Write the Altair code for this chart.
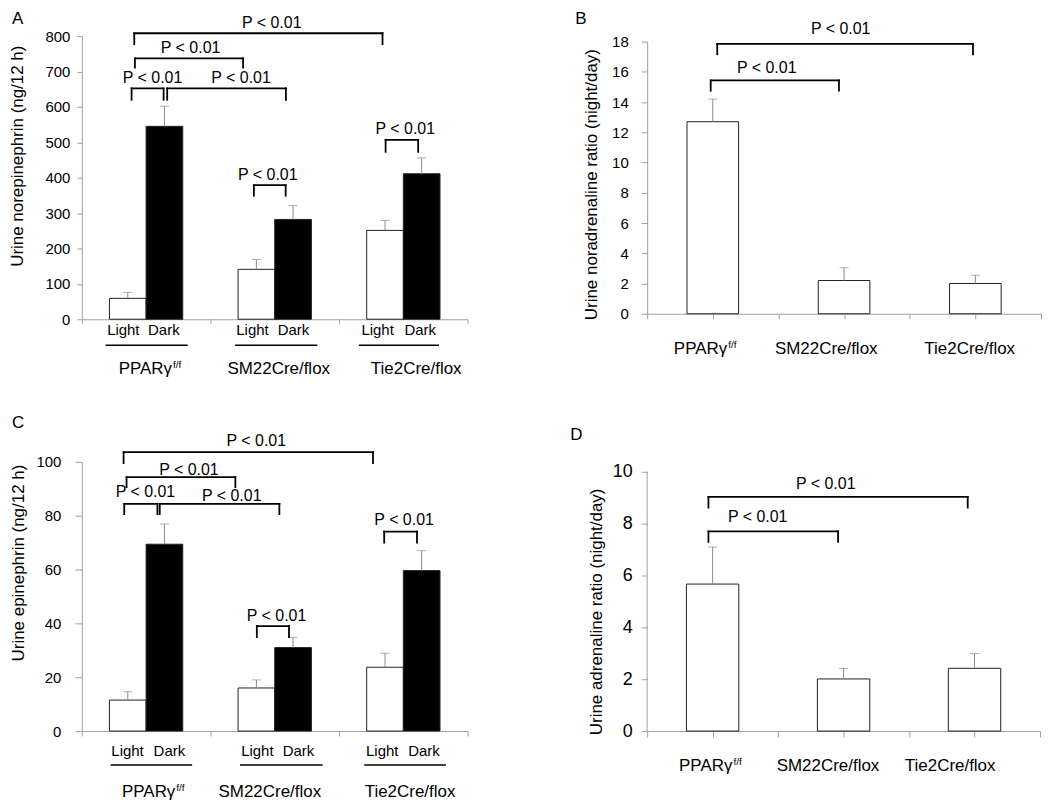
import altair as alt
import pandas as pd

FONT = "Liberation Sans"
AXIS_GRAY = "#a0a0a0"
ERR_GRAY = "#8c8c8c"

groups = ["PPARγ", "SM22Cre/flox", "Tie2Cre/flox"]
conds = ["Light", "Dark"]

# ---------- Panel A : urine norepinephrin (ng/12 h) ----------
a_light = [59, 141, 251]
a_light_err = [76, 169, 279]
a_dark = [545, 282, 411]
a_dark_err = [602, 321, 456]
a_br_x1 = [0.387, 0.664, 0.413, 0.408, 1.338, 2.362]
a_br_x2 = [0.636, 1.587, 1.254, 2.338, 1.585, 2.615]
a_br_top = [652, 652, 737, 808, 379, 507]
a_br_leg = [620, 620, 711, 777, 349, 473]
a_p_x = [0.55, 1.238, 0.846, 1.477, 1.446, 2.515]
a_p_y = [668, 668, 752, 822, 392, 524]
a_light_lab_x = [0.323, 1.327, 2.30]
a_dark_lab_x = [0.638, 1.646, 2.631]
a_under_x1 = [0.185, 1.192, 2.154]
a_under_x2 = [0.823, 1.831, 2.777]
a_group_x = [0.523, 1.531, 2.60]

# ---------- Panel B : urine noradrenaline ratio (night/day) ----------
b_val = [12.7, 2.2, 2.0]
b_err = [14.2, 3.05, 2.55]
b_br_x1 = [0.484, 0.534]
b_br_x2 = [1.461, 2.482]
b_br_top = [15.43, 17.84]
b_br_leg = [14.75, 17.16]
b_p_x = [0.911, 1.474]
b_p_y = [15.9, 18.5]
b_group_x = [0.435, 1.364, 2.457]

# ---------- Panel C : urine epinephrin (ng/12 h) ----------
c_light = [11.5, 16.0, 23.7]
c_light_err = [14.6, 19.0, 28.9]
c_dark = [69.4, 31.0, 59.6]
c_dark_err = [76.9, 34.8, 67.0]
c_br_x1 = [0.330, 0.606, 0.348, 0.325, 1.361, 2.351]
c_br_x2 = [0.588, 1.536, 1.194, 2.264, 1.611, 2.606]
c_br_top = [84.4, 84.4, 94.3, 103.6, 39.0, 74.1]
c_br_leg = [80.6, 80.6, 90.6, 99.5, 34.9, 70.0]
c_p_x = [0.495, 1.166, 0.833, 1.357, 1.514, 2.506]
c_p_y = [86.9, 85.3, 95.2, 105.7, 40.9, 76.7]
c_light_lab_x = [0.356, 1.365, 2.336]
c_dark_lab_x = [0.681, 1.684, 2.66]
c_under_x1 = [0.224, 1.230, 2.196]
c_under_x2 = [0.858, 1.872, 2.831]
c_group_x = [0.549, 1.462, 2.552]

# ---------- Panel D : urine adrenaline ratio (night/day) ----------
d_val = [5.67, 2.01, 2.42]
d_err = [7.1, 2.41, 2.99]
d_br_x1 = [0.468, 0.468]
d_br_x2 = [1.458, 2.448]
d_br_top = [7.70, 9.03]
d_br_leg = [7.30, 8.62]
d_p_x = [0.844, 1.364]
d_p_y = [8.07, 9.35]
d_group_x = [0.476, 1.381, 2.314]

P_LABEL = "P < 0.01"


def bracket_segments(x1, x2, top, leg):
    rows = []
    for a, b, t, l in zip(x1, x2, top, leg):
        rows.append({"x": a, "x2": b, "y": t, "y2": t})
        rows.append({"x": a, "x2": a, "y": l, "y2": t})
        rows.append({"x": b, "x2": b, "y": l, "y2": t})
    return pd.DataFrame(rows)


class Enc:
    """Shared scales and axes so every layer of a panel resolves to the same axes."""

    def __init__(self, ymax, ystep, ytitle, yax, xvals, xtick, ydom=None):
        self.ymax = ymax
        self.own_line = ydom is not None
        self.xs = alt.Scale(domain=[0, 3], nice=False, zero=False)
        self.ys = alt.Scale(domain=[0, ydom if ydom else ymax], nice=False)
        self.xa = alt.Axis(values=xvals, labels=False, title=None, grid=False,
                           domainColor=AXIS_GRAY, tickColor=AXIS_GRAY, tickSize=xtick)
        self.ya = alt.Axis(
            values=list(range(0, ymax + 1, ystep)), title=ytitle, grid=False,
            domain=not self.own_line,
            domainColor=AXIS_GRAY, tickColor=AXIS_GRAY, labelColor="black",
            labelFont=FONT, labelFontSize=yax["lfs"], tickSize=yax["tick"],
            labelPadding=yax["lpad"], labelOverlap=False, titleFont=FONT, titleFontSize=17,
            titleFontWeight="normal", titleColor="black",
            titlePadding=yax["tpad"], titleY=yax["ty"])
        self.ytitle = ytitle

    def X(self, f):
        return alt.X(f, scale=self.xs, axis=self.xa, title=None)

    def Y(self, f):
        return alt.Y(f, scale=self.ys, axis=self.ya, title=self.ytitle)

    def axis_line(self):
        # y-axis line from 0 to the top tick when the scale reaches a little higher
        return alt.Chart(pd.DataFrame({"x": [0], "y": [0], "y2": [self.ymax]})).mark_rule(
            color=AXIS_GRAY, strokeWidth=1
        ).encode(x=self.X("x:Q"), y=self.Y("y:Q"), y2="y2:Q")


def common_layers(e, br, p_x, p_y, group_x, h, group_dy, letter, letter_xy):
    segs = alt.Chart(bracket_segments(*br)).mark_rule(
        color="black", strokeWidth=1.8, strokeCap="square"
    ).encode(x=e.X("x:Q"), x2="x2:Q", y=e.Y("y:Q"), y2="y2:Q")
    ptxt = alt.Chart(pd.DataFrame({"x": p_x, "y": p_y, "t": [P_LABEL] * len(p_x)})).mark_text(
        font=FONT, fontSize=16, align="center", baseline="alphabetic", color="black"
    ).encode(x=e.X("x:Q"), y=e.Y("y:Q"), text="t:N")
    gdf = pd.DataFrame({"x": group_x, "t": groups})
    g_other = alt.Chart(gdf.iloc[1:]).mark_text(
        font=FONT, fontSize=17, align="center", baseline="alphabetic", color="black"
    ).encode(x=e.X("x:Q"), y=alt.value(h + group_dy), text="t:N")
    g_ppar = alt.Chart(gdf.iloc[:1]).mark_text(
        font=FONT, fontSize=17, align="right", baseline="alphabetic", color="black", dx=23
    ).encode(x=e.X("x:Q"), y=alt.value(h + group_dy), text="t:N")
    g_sup = alt.Chart(pd.DataFrame({"x": group_x[:1], "t": ["f/f"]})).mark_text(
        font=FONT, fontSize=10, align="left", baseline="alphabetic", color="black", dx=24, dy=-6
    ).encode(x=e.X("x:Q"), y=alt.value(h + group_dy), text="t:N")
    let = alt.Chart(pd.DataFrame({"t": [letter]})).mark_text(
        font=FONT, fontSize=17, align="left", baseline="alphabetic", color="black"
    ).encode(x=alt.value(letter_xy[0]), y=alt.value(letter_xy[1]), text="t:N")
    out = [segs, ptxt, g_other, g_ppar, g_sup, let]
    if e.own_line:
        out.append(e.axis_line())
    return out


def pair_panel(letter, light, light_err, dark, dark_err, ymax, ystep, ytitle, w, h,
               yax, xtick, br, p_x, p_y, light_x, dark_x, under1, under2, group_x,
               offs, letter_xy, bw=0.285):
    e = Enc(ymax, ystep, ytitle, yax, [0, 1, 2, 3], xtick)
    centers = [i + 0.5 for i in range(3)]
    df = pd.DataFrame({
        "x": [c - bw for c in centers] + centers,
        "x2": centers + [c + bw for c in centers],
        "mid": [c - bw / 2 for c in centers] + [c + bw / 2 for c in centers],
        "v": light + dark,
        "err": light_err + dark_err,
        "cond": ["Light"] * 3 + ["Dark"] * 3,
    })
    bars = alt.Chart(df).mark_bar(stroke="#222222", strokeWidth=1).encode(
        x=e.X("x:Q"), x2="x2:Q", y=e.Y("v:Q"), y2=alt.datum(0),
        fill=alt.Fill("cond:N", scale=alt.Scale(domain=conds, range=["white", "black"]), legend=None),
    )
    err = alt.Chart(df).mark_rule(color=ERR_GRAY, strokeWidth=1).encode(
        x=e.X("mid:Q"), y=e.Y("v:Q"), y2="err:Q")
    cap = alt.Chart(df).mark_tick(color=ERR_GRAY, orient="horizontal", size=9, thickness=1).encode(
        x=e.X("mid:Q"), y=e.Y("err:Q"))
    ld = pd.DataFrame({"x": light_x + dark_x, "t": ["Light"] * 3 + ["Dark"] * 3})
    ldt = alt.Chart(ld).mark_text(
        font=FONT, fontSize=15, align="center", baseline="alphabetic", color="black"
    ).encode(x=e.X("x:Q"), y=alt.value(h + offs[0]), text="t:N")
    und = alt.Chart(pd.DataFrame({"x": under1, "x2": under2})).mark_rule(
        color="black", strokeWidth=1.5
    ).encode(x=e.X("x:Q"), x2="x2:Q", y=alt.value(h + offs[1]))
    layers = [bars, err, cap, ldt, und] + common_layers(
        e, br, p_x, p_y, group_x, h, offs[2], letter, letter_xy)
    return alt.layer(*layers).properties(width=w, height=h)


def single_panel(letter, vals, errs, ymax, ystep, ytitle, w, h, yax, xtick,
                 br, p_x, p_y, group_x, group_dy, letter_xy, bw=0.395, ydom=None):
    e = Enc(ymax, ystep, ytitle, yax, [0, 0.5, 1, 1.5, 2, 2.5, 3], xtick, ydom)
    centers = [i + 0.5 for i in range(3)]
    df = pd.DataFrame({
        "x": [c - bw / 2 for c in centers],
        "x2": [c + bw / 2 for c in centers],
        "mid": centers,
        "v": vals,
        "err": errs,
    })
    bars = alt.Chart(df).mark_bar(stroke="#222222", strokeWidth=1, fill="white").encode(
        x=e.X("x:Q"), x2="x2:Q", y=e.Y("v:Q"), y2=alt.datum(0))
    err = alt.Chart(df).mark_rule(color=ERR_GRAY, strokeWidth=1).encode(
        x=e.X("mid:Q"), y=e.Y("v:Q"), y2="err:Q")
    cap = alt.Chart(df).mark_tick(color=ERR_GRAY, orient="horizontal", size=9, thickness=1).encode(
        x=e.X("mid:Q"), y=e.Y("err:Q"))
    layers = [bars, err, cap] + common_layers(
        e, br, p_x, p_y, group_x, h, group_dy, letter, letter_xy)
    return alt.layer(*layers).properties(width=w, height=h)


A = pair_panel("A", a_light, a_light_err, a_dark, a_dark_err, 800, 100,
               "Urine norepinephrin (ng/12 h)", 387, 284,
               {"lfs": 15, "tick": 5, "lpad": 7, "tpad": 18, "ty": 120}, 4,
               (a_br_x1, a_br_x2, a_br_top, a_br_leg), a_p_x, a_p_y,
               a_light_lab_x, a_dark_lab_x, a_under_x1, a_under_x2, a_group_x,
               (16, 26, 55), (-70, -12))

B = single_panel("B", b_val, b_err, 18, 2, "Urine noradrenaline ratio (night/day)", 395, 273,
                 {"lfs": 15, "tick": 6, "lpad": 13, "tpad": 11, "ty": 143}, 5,
                 (b_br_x1, b_br_x2, b_br_top, b_br_leg), b_p_x, b_p_y, b_group_x, 40,
                 (-72, -18), bw=0.393)

C = pair_panel("C", c_light, c_light_err, c_dark, c_dark_err, 100, 20,
               "Urine epinephrin (ng/12 h)", 387, 270,
               {"lfs": 15, "tick": 7, "lpad": 14, "tpad": 8, "ty": 101}, 5,
               (c_br_x1, c_br_x2, c_br_top, c_br_leg), c_p_x, c_p_y,
               c_light_lab_x, c_dark_lab_x, c_under_x1, c_under_x2, c_group_x,
               (25, 34, 66), (-70, -34))

# D: same height as C; the scale reaches a little above 10 so that the 10 tick sits lower
D = single_panel("D", d_val, d_err, 10, 2, "Urine adrenaline ratio (night/day)", 394, 270,
                 {"lfs": 18, "tick": 6, "lpad": 9, "tpad": 7, "ty": 150}, 6,
                 (d_br_x1, d_br_x2, d_br_top, d_br_leg), d_p_x, d_p_y, d_group_x, 40,
                 (-77, -22), bw=0.40, ydom=10.385)

chart = alt.concat(
    A, B, C, D, columns=2, bounds="flush", center=True,
    spacing={"row": 143, "column": 180},
).properties(padding=0).configure(font=FONT).configure_view(stroke=None)

chart.save("out.html", embed_options={"renderer": "svg", "actions": False})
